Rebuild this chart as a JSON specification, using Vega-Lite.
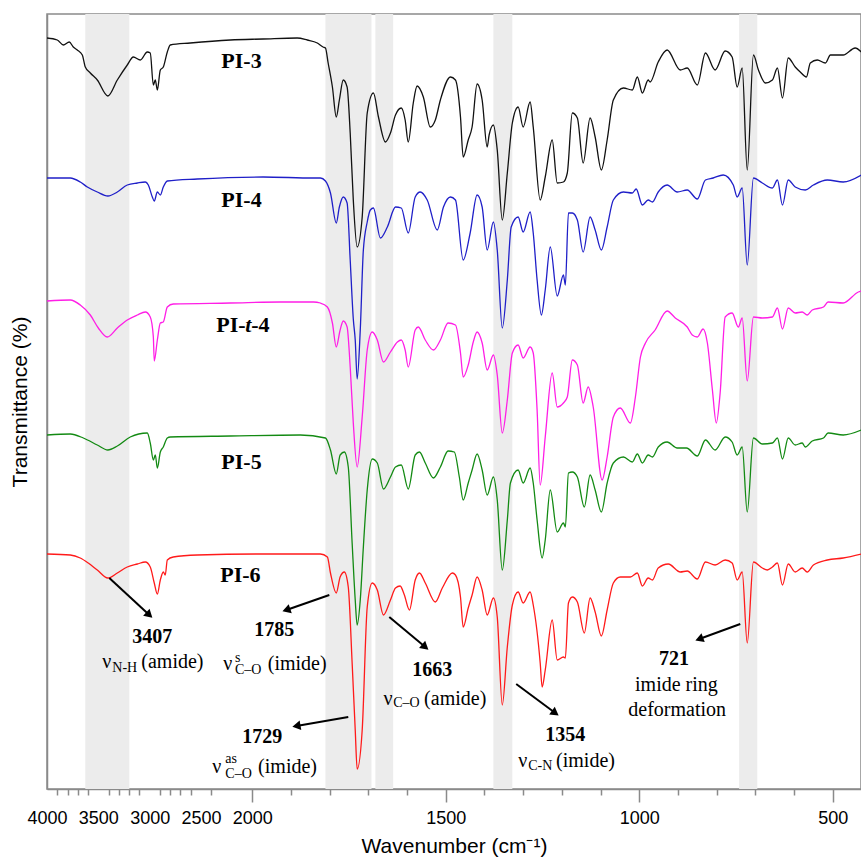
{
"$schema": "https://vega.github.io/schema/vega-lite/v6.json",
"width": 814, "height": 775, "autosize": "none",
"padding": {"left": 47, "top": 14, "right": 0, "bottom": 71},
"background": "white",
"config": {"view": {"stroke": "#8a8a8a", "strokeWidth": 1.5}},
"datasets": {
"bands": [{"w":3627,"w2":3198},{"w":1811,"w2":1692},{"w":1682,"w2":1636},{"w":1377,"w2":1328},{"w":742,"w2":695}],
"spec": [
{"s":"PI-3","w":4000,"t":751},{"s":"PI-3","w":3900,"t":749},{"s":"PI-3","w":3841,"t":744},{"s":"PI-3","w":3783,"t":747},{"s":"PI-3","w":3744,"t":742},{"s":"PI-3","w":3705,"t":739},{"s":"PI-3","w":3656,"t":734},{"s":"PI-3","w":3627,"t":722},{"s":"PI-3","w":3578,"t":716},{"s":"PI-3","w":3510,"t":709},{"s":"PI-3","w":3407,"t":693},{"s":"PI-3","w":3315,"t":709},{"s":"PI-3","w":3218,"t":724},{"s":"PI-3","w":3159,"t":732},{"s":"PI-3","w":3091,"t":729},{"s":"PI-3","w":3023,"t":737},{"s":"PI-3","w":2994,"t":736},{"s":"PI-3","w":2964,"t":704},{"s":"PI-3","w":2945,"t":709},{"s":"PI-3","w":2925,"t":699},{"s":"PI-3","w":2896,"t":719},{"s":"PI-3","w":2867,"t":722},{"s":"PI-3","w":2828,"t":737},{"s":"PI-3","w":2799,"t":744},{"s":"PI-3","w":2604,"t":746},{"s":"PI-3","w":2214,"t":749},{"s":"PI-3","w":1972,"t":750},{"s":"PI-3","w":1884,"t":751},{"s":"PI-3","w":1858,"t":749},{"s":"PI-3","w":1832,"t":746},{"s":"PI-3","w":1817,"t":742},{"s":"PI-3","w":1811,"t":741},{"s":"PI-3","w":1804,"t":726},{"s":"PI-3","w":1793,"t":702},{"s":"PI-3","w":1783,"t":672},{"s":"PI-3","w":1775,"t":689},{"s":"PI-3","w":1765,"t":709},{"s":"PI-3","w":1755,"t":702},{"s":"PI-3","w":1747,"t":656},{"s":"PI-3","w":1739,"t":589},{"s":"PI-3","w":1729,"t":542},{"s":"PI-3","w":1716,"t":572},{"s":"PI-3","w":1703,"t":676},{"s":"PI-3","w":1687,"t":696},{"s":"PI-3","w":1674,"t":672},{"s":"PI-3","w":1656,"t":647},{"s":"PI-3","w":1643,"t":656},{"s":"PI-3","w":1630,"t":674},{"s":"PI-3","w":1615,"t":681},{"s":"PI-3","w":1605,"t":669},{"s":"PI-3","w":1597,"t":647},{"s":"PI-3","w":1584,"t":686},{"s":"PI-3","w":1574,"t":703},{"s":"PI-3","w":1558,"t":692},{"s":"PI-3","w":1540,"t":662},{"s":"PI-3","w":1527,"t":669},{"s":"PI-3","w":1514,"t":689},{"s":"PI-3","w":1488,"t":712},{"s":"PI-3","w":1475,"t":709},{"s":"PI-3","w":1462,"t":672},{"s":"PI-3","w":1455,"t":632},{"s":"PI-3","w":1442,"t":649},{"s":"PI-3","w":1432,"t":662},{"s":"PI-3","w":1419,"t":705},{"s":"PI-3","w":1406,"t":689},{"s":"PI-3","w":1393,"t":642},{"s":"PI-3","w":1388,"t":654},{"s":"PI-3","w":1377,"t":664},{"s":"PI-3","w":1367,"t":639},{"s":"PI-3","w":1354,"t":569},{"s":"PI-3","w":1341,"t":616},{"s":"PI-3","w":1328,"t":666},{"s":"PI-3","w":1313,"t":682},{"s":"PI-3","w":1300,"t":662},{"s":"PI-3","w":1282,"t":687},{"s":"PI-3","w":1274,"t":662},{"s":"PI-3","w":1256,"t":589},{"s":"PI-3","w":1243,"t":612},{"s":"PI-3","w":1225,"t":649},{"s":"PI-3","w":1212,"t":606},{"s":"PI-3","w":1196,"t":607},{"s":"PI-3","w":1186,"t":616},{"s":"PI-3","w":1173,"t":676},{"s":"PI-3","w":1160,"t":671},{"s":"PI-3","w":1145,"t":626},{"s":"PI-3","w":1127,"t":671},{"s":"PI-3","w":1114,"t":652},{"s":"PI-3","w":1098,"t":619},{"s":"PI-3","w":1083,"t":649},{"s":"PI-3","w":1067,"t":689},{"s":"PI-3","w":1041,"t":701},{"s":"PI-3","w":1018,"t":699},{"s":"PI-3","w":1005,"t":712},{"s":"PI-3","w":992,"t":696},{"s":"PI-3","w":977,"t":709},{"s":"PI-3","w":972,"t":707},{"s":"PI-3","w":951,"t":727},{"s":"PI-3","w":928,"t":739},{"s":"PI-3","w":894,"t":719},{"s":"PI-3","w":876,"t":721},{"s":"PI-3","w":850,"t":704},{"s":"PI-3","w":829,"t":736},{"s":"PI-3","w":804,"t":719},{"s":"PI-3","w":778,"t":738},{"s":"PI-3","w":760,"t":732},{"s":"PI-3","w":747,"t":702},{"s":"PI-3","w":734,"t":721},{"s":"PI-3","w":721,"t":619},{"s":"PI-3","w":705,"t":734},{"s":"PI-3","w":692,"t":719},{"s":"PI-3","w":674,"t":706},{"s":"PI-3","w":656,"t":709},{"s":"PI-3","w":643,"t":721},{"s":"PI-3","w":630,"t":691},{"s":"PI-3","w":615,"t":731},{"s":"PI-3","w":597,"t":722},{"s":"PI-3","w":584,"t":717},{"s":"PI-3","w":568,"t":712},{"s":"PI-3","w":558,"t":726},{"s":"PI-3","w":540,"t":729},{"s":"PI-3","w":519,"t":726},{"s":"PI-3","w":506,"t":734},{"s":"PI-3","w":473,"t":734},{"s":"PI-3","w":442,"t":741},{"s":"PI-3","w":426,"t":737},
{"s":"PI-4","w":4000,"t":611},{"s":"PI-4","w":3773,"t":611},{"s":"PI-4","w":3676,"t":607},{"s":"PI-4","w":3607,"t":602},{"s":"PI-4","w":3510,"t":597},{"s":"PI-4","w":3407,"t":593},{"s":"PI-4","w":3315,"t":597},{"s":"PI-4","w":3218,"t":604},{"s":"PI-4","w":3120,"t":606},{"s":"PI-4","w":3042,"t":607},{"s":"PI-4","w":3013,"t":604},{"s":"PI-4","w":2974,"t":592},{"s":"PI-4","w":2955,"t":588},{"s":"PI-4","w":2925,"t":597},{"s":"PI-4","w":2896,"t":594},{"s":"PI-4","w":2867,"t":602},{"s":"PI-4","w":2828,"t":608},{"s":"PI-4","w":2536,"t":610},{"s":"PI-4","w":1972,"t":612},{"s":"PI-4","w":1842,"t":611},{"s":"PI-4","w":1824,"t":611},{"s":"PI-4","w":1811,"t":608},{"s":"PI-4","w":1798,"t":596},{"s":"PI-4","w":1783,"t":566},{"s":"PI-4","w":1775,"t":582},{"s":"PI-4","w":1765,"t":592},{"s":"PI-4","w":1755,"t":586},{"s":"PI-4","w":1747,"t":529},{"s":"PI-4","w":1739,"t":470},{"s":"PI-4","w":1734,"t":449},{"s":"PI-4","w":1729,"t":410},{"s":"PI-4","w":1721,"t":459},{"s":"PI-4","w":1713,"t":539},{"s":"PI-4","w":1703,"t":567},{"s":"PI-4","w":1695,"t":579},{"s":"PI-4","w":1687,"t":581},{"s":"PI-4","w":1669,"t":551},{"s":"PI-4","w":1651,"t":562},{"s":"PI-4","w":1630,"t":582},{"s":"PI-4","w":1615,"t":581},{"s":"PI-4","w":1597,"t":556},{"s":"PI-4","w":1579,"t":592},{"s":"PI-4","w":1566,"t":597},{"s":"PI-4","w":1548,"t":589},{"s":"PI-4","w":1522,"t":559},{"s":"PI-4","w":1506,"t":582},{"s":"PI-4","w":1488,"t":592},{"s":"PI-4","w":1475,"t":589},{"s":"PI-4","w":1455,"t":529},{"s":"PI-4","w":1437,"t":556},{"s":"PI-4","w":1419,"t":594},{"s":"PI-4","w":1406,"t":582},{"s":"PI-4","w":1393,"t":539},{"s":"PI-4","w":1377,"t":567},{"s":"PI-4","w":1367,"t":539},{"s":"PI-4","w":1354,"t":461},{"s":"PI-4","w":1341,"t":509},{"s":"PI-4","w":1331,"t":562},{"s":"PI-4","w":1313,"t":572},{"s":"PI-4","w":1300,"t":557},{"s":"PI-4","w":1282,"t":577},{"s":"PI-4","w":1274,"t":556},{"s":"PI-4","w":1264,"t":509},{"s":"PI-4","w":1253,"t":474},{"s":"PI-4","w":1243,"t":499},{"s":"PI-4","w":1230,"t":542},{"s":"PI-4","w":1212,"t":493},{"s":"PI-4","w":1196,"t":514},{"s":"PI-4","w":1191,"t":504},{"s":"PI-4","w":1183,"t":576},{"s":"PI-4","w":1173,"t":576},{"s":"PI-4","w":1160,"t":569},{"s":"PI-4","w":1145,"t":537},{"s":"PI-4","w":1127,"t":572},{"s":"PI-4","w":1114,"t":559},{"s":"PI-4","w":1098,"t":539},{"s":"PI-4","w":1083,"t":562},{"s":"PI-4","w":1067,"t":589},{"s":"PI-4","w":1041,"t":597},{"s":"PI-4","w":1018,"t":596},{"s":"PI-4","w":1008,"t":600},{"s":"PI-4","w":992,"t":584},{"s":"PI-4","w":977,"t":589},{"s":"PI-4","w":966,"t":587},{"s":"PI-4","w":951,"t":597},{"s":"PI-4","w":928,"t":604},{"s":"PI-4","w":902,"t":597},{"s":"PI-4","w":876,"t":599},{"s":"PI-4","w":850,"t":590},{"s":"PI-4","w":829,"t":609},{"s":"PI-4","w":809,"t":611},{"s":"PI-4","w":783,"t":614},{"s":"PI-4","w":757,"t":604},{"s":"PI-4","w":747,"t":592},{"s":"PI-4","w":734,"t":601},{"s":"PI-4","w":721,"t":524},{"s":"PI-4","w":705,"t":611},{"s":"PI-4","w":682,"t":606},{"s":"PI-4","w":656,"t":601},{"s":"PI-4","w":643,"t":609},{"s":"PI-4","w":630,"t":584},{"s":"PI-4","w":615,"t":609},{"s":"PI-4","w":597,"t":602},{"s":"PI-4","w":571,"t":599},{"s":"PI-4","w":550,"t":604},{"s":"PI-4","w":514,"t":609},{"s":"PI-4","w":473,"t":607},{"s":"PI-4","w":426,"t":614},
{"s":"PI-t-4","w":4000,"t":488},{"s":"PI-t-4","w":3773,"t":489},{"s":"PI-t-4","w":3676,"t":484},{"s":"PI-t-4","w":3578,"t":474},{"s":"PI-t-4","w":3500,"t":461},{"s":"PI-t-4","w":3413,"t":452},{"s":"PI-t-4","w":3315,"t":461},{"s":"PI-t-4","w":3218,"t":469},{"s":"PI-t-4","w":3120,"t":474},{"s":"PI-t-4","w":3042,"t":477},{"s":"PI-t-4","w":2994,"t":472},{"s":"PI-t-4","w":2964,"t":452},{"s":"PI-t-4","w":2955,"t":428},{"s":"PI-t-4","w":2925,"t":449},{"s":"PI-t-4","w":2896,"t":466},{"s":"PI-t-4","w":2867,"t":467},{"s":"PI-t-4","w":2828,"t":482},{"s":"PI-t-4","w":2770,"t":485},{"s":"PI-t-4","w":2214,"t":486},{"s":"PI-t-4","w":1928,"t":487},{"s":"PI-t-4","w":1842,"t":487},{"s":"PI-t-4","w":1824,"t":486},{"s":"PI-t-4","w":1806,"t":482},{"s":"PI-t-4","w":1793,"t":466},{"s":"PI-t-4","w":1783,"t":442},{"s":"PI-t-4","w":1773,"t":459},{"s":"PI-t-4","w":1765,"t":468},{"s":"PI-t-4","w":1755,"t":462},{"s":"PI-t-4","w":1747,"t":422},{"s":"PI-t-4","w":1739,"t":366},{"s":"PI-t-4","w":1729,"t":322},{"s":"PI-t-4","w":1716,"t":372},{"s":"PI-t-4","w":1703,"t":439},{"s":"PI-t-4","w":1690,"t":457},{"s":"PI-t-4","w":1677,"t":449},{"s":"PI-t-4","w":1661,"t":427},{"s":"PI-t-4","w":1643,"t":437},{"s":"PI-t-4","w":1625,"t":447},{"s":"PI-t-4","w":1615,"t":449},{"s":"PI-t-4","w":1605,"t":439},{"s":"PI-t-4","w":1597,"t":422},{"s":"PI-t-4","w":1579,"t":459},{"s":"PI-t-4","w":1571,"t":462},{"s":"PI-t-4","w":1553,"t":449},{"s":"PI-t-4","w":1532,"t":439},{"s":"PI-t-4","w":1514,"t":449},{"s":"PI-t-4","w":1494,"t":466},{"s":"PI-t-4","w":1475,"t":464},{"s":"PI-t-4","w":1462,"t":436},{"s":"PI-t-4","w":1455,"t":412},{"s":"PI-t-4","w":1442,"t":424},{"s":"PI-t-4","w":1429,"t":447},{"s":"PI-t-4","w":1419,"t":457},{"s":"PI-t-4","w":1406,"t":446},{"s":"PI-t-4","w":1393,"t":419},{"s":"PI-t-4","w":1377,"t":434},{"s":"PI-t-4","w":1367,"t":414},{"s":"PI-t-4","w":1354,"t":356},{"s":"PI-t-4","w":1341,"t":389},{"s":"PI-t-4","w":1328,"t":436},{"s":"PI-t-4","w":1313,"t":444},{"s":"PI-t-4","w":1300,"t":431},{"s":"PI-t-4","w":1282,"t":442},{"s":"PI-t-4","w":1274,"t":436},{"s":"PI-t-4","w":1264,"t":379},{"s":"PI-t-4","w":1256,"t":304},{"s":"PI-t-4","w":1243,"t":352},{"s":"PI-t-4","w":1225,"t":416},{"s":"PI-t-4","w":1212,"t":382},{"s":"PI-t-4","w":1196,"t":386},{"s":"PI-t-4","w":1186,"t":392},{"s":"PI-t-4","w":1173,"t":429},{"s":"PI-t-4","w":1160,"t":424},{"s":"PI-t-4","w":1145,"t":386},{"s":"PI-t-4","w":1132,"t":402},{"s":"PI-t-4","w":1119,"t":382},{"s":"PI-t-4","w":1096,"t":309},{"s":"PI-t-4","w":1083,"t":332},{"s":"PI-t-4","w":1067,"t":372},{"s":"PI-t-4","w":1049,"t":381},{"s":"PI-t-4","w":1023,"t":366},{"s":"PI-t-4","w":1010,"t":392},{"s":"PI-t-4","w":997,"t":432},{"s":"PI-t-4","w":984,"t":446},{"s":"PI-t-4","w":959,"t":459},{"s":"PI-t-4","w":928,"t":478},{"s":"PI-t-4","w":907,"t":471},{"s":"PI-t-4","w":876,"t":462},{"s":"PI-t-4","w":863,"t":454},{"s":"PI-t-4","w":850,"t":452},{"s":"PI-t-4","w":835,"t":460},{"s":"PI-t-4","w":824,"t":446},{"s":"PI-t-4","w":811,"t":399},{"s":"PI-t-4","w":801,"t":366},{"s":"PI-t-4","w":791,"t":396},{"s":"PI-t-4","w":778,"t":472},{"s":"PI-t-4","w":760,"t":476},{"s":"PI-t-4","w":744,"t":462},{"s":"PI-t-4","w":734,"t":471},{"s":"PI-t-4","w":721,"t":408},{"s":"PI-t-4","w":705,"t":472},{"s":"PI-t-4","w":682,"t":471},{"s":"PI-t-4","w":656,"t":472},{"s":"PI-t-4","w":643,"t":481},{"s":"PI-t-4","w":630,"t":460},{"s":"PI-t-4","w":615,"t":481},{"s":"PI-t-4","w":597,"t":476},{"s":"PI-t-4","w":579,"t":477},{"s":"PI-t-4","w":566,"t":474},{"s":"PI-t-4","w":553,"t":479},{"s":"PI-t-4","w":524,"t":482},{"s":"PI-t-4","w":512,"t":487},{"s":"PI-t-4","w":473,"t":486},{"s":"PI-t-4","w":434,"t":497},{"s":"PI-t-4","w":426,"t":498},
{"s":"PI-5","w":4000,"t":354},{"s":"PI-5","w":3773,"t":355},{"s":"PI-5","w":3646,"t":351},{"s":"PI-5","w":3510,"t":344},{"s":"PI-5","w":3407,"t":339},{"s":"PI-5","w":3315,"t":343},{"s":"PI-5","w":3189,"t":352},{"s":"PI-5","w":3023,"t":356},{"s":"PI-5","w":2994,"t":346},{"s":"PI-5","w":2964,"t":329},{"s":"PI-5","w":2945,"t":334},{"s":"PI-5","w":2925,"t":321},{"s":"PI-5","w":2896,"t":337},{"s":"PI-5","w":2867,"t":342},{"s":"PI-5","w":2828,"t":351},{"s":"PI-5","w":2799,"t":352},{"s":"PI-5","w":2214,"t":353},{"s":"PI-5","w":1876,"t":354},{"s":"PI-5","w":1811,"t":351},{"s":"PI-5","w":1798,"t":339},{"s":"PI-5","w":1783,"t":315},{"s":"PI-5","w":1773,"t":334},{"s":"PI-5","w":1762,"t":337},{"s":"PI-5","w":1752,"t":322},{"s":"PI-5","w":1742,"t":246},{"s":"PI-5","w":1734,"t":189},{"s":"PI-5","w":1729,"t":164},{"s":"PI-5","w":1721,"t":189},{"s":"PI-5","w":1713,"t":242},{"s":"PI-5","w":1703,"t":299},{"s":"PI-5","w":1690,"t":330},{"s":"PI-5","w":1677,"t":326},{"s":"PI-5","w":1661,"t":300},{"s":"PI-5","w":1643,"t":312},{"s":"PI-5","w":1630,"t":322},{"s":"PI-5","w":1615,"t":324},{"s":"PI-5","w":1597,"t":300},{"s":"PI-5","w":1579,"t":334},{"s":"PI-5","w":1568,"t":337},{"s":"PI-5","w":1553,"t":326},{"s":"PI-5","w":1532,"t":311},{"s":"PI-5","w":1514,"t":322},{"s":"PI-5","w":1494,"t":338},{"s":"PI-5","w":1478,"t":337},{"s":"PI-5","w":1465,"t":312},{"s":"PI-5","w":1455,"t":289},{"s":"PI-5","w":1442,"t":306},{"s":"PI-5","w":1432,"t":319},{"s":"PI-5","w":1419,"t":335},{"s":"PI-5","w":1406,"t":319},{"s":"PI-5","w":1393,"t":294},{"s":"PI-5","w":1377,"t":312},{"s":"PI-5","w":1367,"t":289},{"s":"PI-5","w":1354,"t":219},{"s":"PI-5","w":1341,"t":269},{"s":"PI-5","w":1333,"t":306},{"s":"PI-5","w":1313,"t":319},{"s":"PI-5","w":1300,"t":306},{"s":"PI-5","w":1282,"t":321},{"s":"PI-5","w":1274,"t":306},{"s":"PI-5","w":1264,"t":269},{"s":"PI-5","w":1251,"t":231},{"s":"PI-5","w":1243,"t":249},{"s":"PI-5","w":1230,"t":299},{"s":"PI-5","w":1212,"t":257},{"s":"PI-5","w":1196,"t":266},{"s":"PI-5","w":1191,"t":262},{"s":"PI-5","w":1183,"t":316},{"s":"PI-5","w":1173,"t":317},{"s":"PI-5","w":1160,"t":312},{"s":"PI-5","w":1142,"t":282},{"s":"PI-5","w":1127,"t":314},{"s":"PI-5","w":1114,"t":299},{"s":"PI-5","w":1098,"t":277},{"s":"PI-5","w":1083,"t":306},{"s":"PI-5","w":1067,"t":326},{"s":"PI-5","w":1041,"t":332},{"s":"PI-5","w":1018,"t":327},{"s":"PI-5","w":1005,"t":335},{"s":"PI-5","w":992,"t":326},{"s":"PI-5","w":977,"t":334},{"s":"PI-5","w":966,"t":332},{"s":"PI-5","w":951,"t":342},{"s":"PI-5","w":928,"t":347},{"s":"PI-5","w":902,"t":341},{"s":"PI-5","w":878,"t":341},{"s":"PI-5","w":850,"t":333},{"s":"PI-5","w":829,"t":349},{"s":"PI-5","w":804,"t":339},{"s":"PI-5","w":778,"t":352},{"s":"PI-5","w":760,"t":347},{"s":"PI-5","w":747,"t":334},{"s":"PI-5","w":734,"t":342},{"s":"PI-5","w":721,"t":277},{"s":"PI-5","w":705,"t":351},{"s":"PI-5","w":682,"t":345},{"s":"PI-5","w":656,"t":346},{"s":"PI-5","w":643,"t":351},{"s":"PI-5","w":630,"t":330},{"s":"PI-5","w":615,"t":351},{"s":"PI-5","w":597,"t":344},{"s":"PI-5","w":579,"t":346},{"s":"PI-5","w":571,"t":342},{"s":"PI-5","w":553,"t":348},{"s":"PI-5","w":524,"t":351},{"s":"PI-5","w":512,"t":356},{"s":"PI-5","w":473,"t":354},{"s":"PI-5","w":426,"t":359},
{"s":"PI-6","w":4000,"t":235},{"s":"PI-6","w":3773,"t":234},{"s":"PI-6","w":3676,"t":231},{"s":"PI-6","w":3598,"t":226},{"s":"PI-6","w":3510,"t":219},{"s":"PI-6","w":3407,"t":211},{"s":"PI-6","w":3315,"t":216},{"s":"PI-6","w":3218,"t":222},{"s":"PI-6","w":3120,"t":225},{"s":"PI-6","w":3042,"t":227},{"s":"PI-6","w":2994,"t":222},{"s":"PI-6","w":2955,"t":206},{"s":"PI-6","w":2925,"t":195},{"s":"PI-6","w":2896,"t":209},{"s":"PI-6","w":2867,"t":217},{"s":"PI-6","w":2848,"t":214},{"s":"PI-6","w":2828,"t":229},{"s":"PI-6","w":2770,"t":232},{"s":"PI-6","w":2536,"t":234},{"s":"PI-6","w":1972,"t":235},{"s":"PI-6","w":1824,"t":235},{"s":"PI-6","w":1806,"t":232},{"s":"PI-6","w":1798,"t":216},{"s":"PI-6","w":1783,"t":196},{"s":"PI-6","w":1773,"t":212},{"s":"PI-6","w":1762,"t":217},{"s":"PI-6","w":1752,"t":202},{"s":"PI-6","w":1742,"t":126},{"s":"PI-6","w":1734,"t":59},{"s":"PI-6","w":1729,"t":20},{"s":"PI-6","w":1716,"t":59},{"s":"PI-6","w":1703,"t":182},{"s":"PI-6","w":1690,"t":206},{"s":"PI-6","w":1677,"t":199},{"s":"PI-6","w":1661,"t":174},{"s":"PI-6","w":1643,"t":189},{"s":"PI-6","w":1630,"t":201},{"s":"PI-6","w":1618,"t":203},{"s":"PI-6","w":1607,"t":194},{"s":"PI-6","w":1594,"t":179},{"s":"PI-6","w":1579,"t":209},{"s":"PI-6","w":1568,"t":216},{"s":"PI-6","w":1553,"t":206},{"s":"PI-6","w":1527,"t":187},{"s":"PI-6","w":1509,"t":201},{"s":"PI-6","w":1483,"t":216},{"s":"PI-6","w":1475,"t":214},{"s":"PI-6","w":1462,"t":192},{"s":"PI-6","w":1455,"t":162},{"s":"PI-6","w":1442,"t":181},{"s":"PI-6","w":1432,"t":194},{"s":"PI-6","w":1419,"t":212},{"s":"PI-6","w":1406,"t":199},{"s":"PI-6","w":1393,"t":174},{"s":"PI-6","w":1377,"t":191},{"s":"PI-6","w":1367,"t":172},{"s":"PI-6","w":1354,"t":84},{"s":"PI-6","w":1341,"t":142},{"s":"PI-6","w":1328,"t":184},{"s":"PI-6","w":1313,"t":197},{"s":"PI-6","w":1300,"t":186},{"s":"PI-6","w":1282,"t":197},{"s":"PI-6","w":1274,"t":184},{"s":"PI-6","w":1256,"t":126},{"s":"PI-6","w":1251,"t":102},{"s":"PI-6","w":1243,"t":119},{"s":"PI-6","w":1225,"t":169},{"s":"PI-6","w":1212,"t":129},{"s":"PI-6","w":1196,"t":132},{"s":"PI-6","w":1191,"t":131},{"s":"PI-6","w":1183,"t":186},{"s":"PI-6","w":1173,"t":192},{"s":"PI-6","w":1160,"t":187},{"s":"PI-6","w":1142,"t":156},{"s":"PI-6","w":1127,"t":191},{"s":"PI-6","w":1114,"t":177},{"s":"PI-6","w":1098,"t":153},{"s":"PI-6","w":1083,"t":179},{"s":"PI-6","w":1067,"t":206},{"s":"PI-6","w":1049,"t":212},{"s":"PI-6","w":1023,"t":212},{"s":"PI-6","w":1005,"t":216},{"s":"PI-6","w":992,"t":203},{"s":"PI-6","w":977,"t":211},{"s":"PI-6","w":966,"t":209},{"s":"PI-6","w":951,"t":221},{"s":"PI-6","w":925,"t":225},{"s":"PI-6","w":894,"t":217},{"s":"PI-6","w":876,"t":218},{"s":"PI-6","w":850,"t":210},{"s":"PI-6","w":829,"t":227},{"s":"PI-6","w":804,"t":224},{"s":"PI-6","w":778,"t":229},{"s":"PI-6","w":760,"t":226},{"s":"PI-6","w":747,"t":209},{"s":"PI-6","w":734,"t":217},{"s":"PI-6","w":721,"t":146},{"s":"PI-6","w":705,"t":227},{"s":"PI-6","w":682,"t":221},{"s":"PI-6","w":669,"t":219},{"s":"PI-6","w":656,"t":222},{"s":"PI-6","w":643,"t":226},{"s":"PI-6","w":630,"t":204},{"s":"PI-6","w":615,"t":225},{"s":"PI-6","w":597,"t":217},{"s":"PI-6","w":579,"t":221},{"s":"PI-6","w":566,"t":217},{"s":"PI-6","w":550,"t":224},{"s":"PI-6","w":514,"t":229},{"s":"PI-6","w":473,"t":231},{"s":"PI-6","w":426,"t":235}
],
"labels": [{"w":2302,"t":728,"txt":"PI-3"},{"w":2302,"t":589,"txt":"PI-4"},{"w":2351,"t":464,"txt":"PI-"},{"w":2010,"t":464,"txt":"-4"},{"w":2302,"t":327,"txt":"PI-5"},{"w":2312,"t":214,"txt":"PI-6"}],
"labelsItalic": [{"w":2068,"t":464,"txt":"t"}],
"nums": [{"w":2974,"t":152,"txt":"3407"},{"w":1943,"t":159,"txt":"1785"},{"w":1974,"t":52,"txt":"1729"},{"w":1535,"t":119,"txt":"1663"},{"w":1191,"t":54,"txt":"1354"},{"w":910,"t":130,"txt":"721"}],
"centerText": [{"w":904,"t":104,"txt":"imide ring"},{"w":902,"t":79,"txt":"deformation"}],
"leftText": [{"w":3461,"t":127,"txt":"ν"},{"w":3081,"t":127,"txt":"(amide)"},{"w":2283,"t":125,"txt":"ν"},{"w":1960,"t":125,"txt":"(imide)"},{"w":2390,"t":22,"txt":"ν"},{"w":1985,"t":22,"txt":"(imide)"},{"w":1661,"t":90,"txt":"ν"},{"w":1556,"t":90,"txt":"(amide)"},{"w":1313,"t":28,"txt":"ν"},{"w":1215,"t":28,"txt":"(imide)"}],
"smallText": [{"w":3364,"t":121,"txt":"N-H"},{"w":2169,"t":131,"txt":"s"},{"w":2169,"t":119,"txt":"C–O"},{"w":2263,"t":30,"txt":"as"},{"w":2263,"t":15,"txt":"C–O"},{"w":1636,"t":86,"txt":"C–O"},{"w":1287,"t":23,"txt":"C-N"}],
"arrows": [{"id":1,"w":3393,"t":211},{"id":1,"w":3003,"t":174},{"id":2,"w":1801,"t":194},{"id":2,"w":1912,"t":179},{"id":3,"w":1752,"t":72},{"id":3,"w":1886,"t":63},{"id":4,"w":1646,"t":172},{"id":4,"w":1553,"t":142},{"id":5,"w":1318,"t":105},{"id":5,"w":1217,"t":76},{"id":6,"w":739,"t":165},{"id":6,"w":845,"t":150}],
"heads": [{"w":3003,"t":174,"a":43},{"w":1912,"t":179,"a":161},{"w":1886,"t":63,"a":170},{"w":1553,"t":142,"a":40},{"w":1217,"t":76,"a":36},{"w":845,"t":150,"a":160}]
},
"encoding": {
 "x": {"field": "w", "type": "quantitative",
  "scale": {"domain": [4000, 2000, 427], "range": [0, 205.3, 814], "nice": false, "zero": false},
  "axis": {"values": [4000,3900,3800,3700,3600,3500,3400,3300,3200,3100,3000,2900,2800,2700,2600,2500,2400,2000,1900,1800,1700,1600,1500,1400,1300,1200,1100,1000,900,800,700,600,500],
   "format": "d", "labelExpr": "datum.value % 500 === 0 ? datum.label : ''",
   "tickSize": {"condition": {"test": "datum.value % 500 === 0", "value": 13}, "value": 6},
   "tickOpacity": {"condition": {"test": "datum.value > 2000 && datum.value % 500 === 0", "value": 0}, "value": 1},
   "tickColor": "#8a8a8a", "tickWidth": 1.5, "domainColor": "#8a8a8a", "domainWidth": 1.5, "grid": false,
   "labelFont": "Liberation Sans", "labelFontSize": 18, "labelColor": "#000", "labelPadding": 7,
   "labelFlush": false, "labelOverlap": false, "labelBound": false,
   "title": "Wavenumber (cm⁻¹)", "titleFont": "Liberation Sans", "titleFontSize": 21, "titleFontWeight": "normal", "titleColor": "#000", "titlePadding": 8}}
},
"layer": [
 {"data": {"name": "bands"}, "mark": {"type": "rect", "fill": "#ececec"},
  "encoding": {"x2": {"field": "w2"}}},
 {"encoding": {
   "y": {"field": "t", "type": "quantitative",
    "scale": {"domain": [0, 775], "nice": false, "zero": false},
    "axis": {"title": "Transmittance (%)", "labels": false, "ticks": false, "grid": false, "domainColor": "#8a8a8a", "domainWidth": 1.5,
     "titleFont": "Liberation Sans", "titleFontSize": 21, "titleFontWeight": "normal", "titleColor": "#000", "titlePadding": 17}}},
  "layer": [
   {"data": {"name": "spec"}, "mark": {"type": "line", "strokeWidth": 1.3, "interpolate": "monotone"},
    "encoding": {"color": {"field": "s", "type": "nominal", "legend": null,
      "scale": {"domain": ["PI-3","PI-4","PI-t-4","PI-5","PI-6"], "range": ["#111111","#1f1fc8","#ff1ee6","#138a13","#ff1a1a"]}},
     "order": {"field": "w", "sort": "descending"}}},
   {"data": {"name": "arrows"}, "mark": {"type": "line", "color": "#000", "strokeWidth": 2},
    "encoding": {"detail": {"field": "id", "type": "nominal"}}},
   {"data": {"name": "heads"}, "mark": {"type": "point", "shape": "triangle-right", "filled": true, "color": "#000", "opacity": 1, "size": 90},
    "encoding": {"angle": {"field": "a", "type": "quantitative", "scale": null}}},
   {"data": {"name": "labels"}, "mark": {"type": "text", "font": "Liberation Serif", "fontSize": 22, "fontWeight": "bold", "align": "left", "baseline": "middle", "color": "#000"},
    "encoding": {"text": {"field": "txt"}}},
   {"data": {"name": "labelsItalic"}, "mark": {"type": "text", "font": "Liberation Serif", "fontSize": 22, "fontWeight": "bold", "fontStyle": "italic", "align": "left", "baseline": "middle", "color": "#000"},
    "encoding": {"text": {"field": "txt"}}},
   {"data": {"name": "nums"}, "mark": {"type": "text", "font": "Liberation Serif", "fontSize": 20, "fontWeight": "bold", "align": "center", "baseline": "middle", "color": "#000"},
    "encoding": {"text": {"field": "txt"}}},
   {"data": {"name": "centerText"}, "mark": {"type": "text", "font": "Liberation Serif", "fontSize": 20, "align": "center", "baseline": "middle", "color": "#000"},
    "encoding": {"text": {"field": "txt"}}},
   {"data": {"name": "leftText"}, "mark": {"type": "text", "font": "Liberation Serif", "fontSize": 20, "align": "left", "baseline": "middle", "color": "#000"},
    "encoding": {"text": {"field": "txt"}}},
   {"data": {"name": "smallText"}, "mark": {"type": "text", "font": "Liberation Serif", "fontSize": 14, "align": "left", "baseline": "middle", "color": "#000"},
    "encoding": {"text": {"field": "txt"}}}
  ]}
]
}
